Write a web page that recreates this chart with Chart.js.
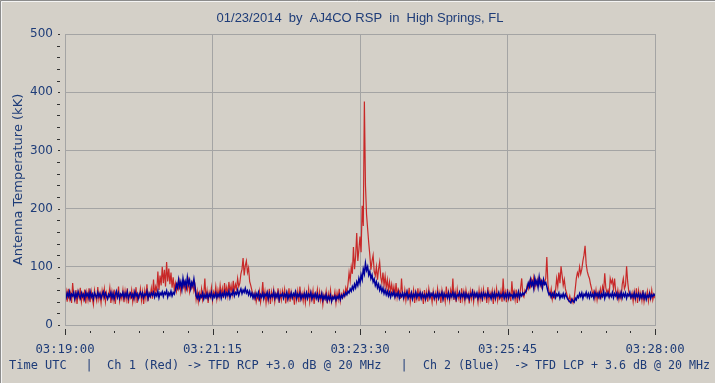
<!DOCTYPE html>
<html>
<head>
<meta charset="utf-8">
<script src="https://cdn.jsdelivr.net/npm/chart.js@4/dist/chart.umd.min.js"></script>
<style>
html,body{margin:0;padding:0;background:#d4d0c8;}
canvas{display:block;}
</style>
</head>
<body>
<canvas id="c" width="715" height="383"></canvas>
<script>
// ---- data ----
const chartTitle = "01/23/2014  by  AJ4CO RSP  in  High Springs, FL";
const yTitle = "Antenna Temperature (kK)";
const footerParts = ["Time UTC", "|", "Ch 1 (Red) -> TFD RCP +3.0 dB @ 20 MHz", "|", "Ch 2 (Blue)  -> TFD LCP + 3.6 dB @ 20 MHz"];
const startClock = [3, 19, 0];      // 03:19:00 UTC
const sampleStepSec = 1;            // seconds between samples
const spanSec = 540;                // 9 minutes
const majorTickSec = 135;           // 2:15 between labels
const minorTickSec = 22.5;
const yMin = 0, yMax = 500, yMajor = 100, yMinor = 20;

// Ch 2 (Blue) LCP, one value per second from 03:19:00
const blueValues = [
  52,47,55,49,57,46,53,50,56,45,54,48,57,51,46,55,49,53,45,56,
  50,54,46,57,48,53,45,55,51,47,56,49,54,46,52,57,48,55,50,45,
  53,49,56,47,54,45,52,58,48,55,46,53,50,56,47,54,49,57,46,52,
  55,48,53,46,57,50,54,45,52,56,49,55,47,53,51,58,46,54,49,55,
  51,56,48,54,50,58,47,55,52,57,49,56,53,59,48,55,51,58,50,56,
  53,60,70,64,78,66,74,62,80,68,75,65,82,70,77,63,73,67,79,66,
  50,46,53,44,51,48,55,45,52,47,54,46,53,49,56,45,52,48,55,47,
  53,49,56,46,54,50,57,48,55,51,58,47,54,52,59,50,56,53,60,51,
  57,62,54,60,56,63,55,59,52,58,50,55,47,53,46,54,49,56,45,52,
  48,55,46,53,50,56,45,54,47,52,49,57,46,53,48,55,44,52,50,54,
  46,53,49,56,45,52,48,55,47,54,50,57,46,53,49,55,45,52,48,54,
  47,55,46,53,49,56,45,52,48,54,46,53,44,51,47,54,43,50,45,52,
  42,49,44,51,41,48,45,50,43,49,46,52,44,51,47,53,50,56,52,58,
  55,62,58,66,61,70,64,74,68,80,72,86,78,96,88,106,94,100,86,92,
  80,86,74,79,68,74,64,70,60,66,57,63,54,60,52,58,50,56,48,55,
  51,57,48,54,50,56,46,53,49,55,47,54,50,57,46,52,48,55,45,53,
  49,56,47,53,50,55,46,54,48,52,45,53,49,56,47,54,50,55,46,52,
  48,55,46,53,50,56,45,54,49,52,47,55,46,53,49,56,48,54,45,52,
  50,56,47,53,49,55,46,54,48,52,45,53,50,57,47,54,49,55,46,53,
  48,54,46,55,50,53,47,56,49,52,45,54,48,55,46,53,50,56,47,52,
  49,55,46,53,48,56,47,54,50,52,46,55,48,53,49,57,47,54,50,55,
  52,56,58,64,72,66,78,68,74,63,80,70,76,65,82,69,75,64,78,70,
  73,66,58,52,55,48,54,49,56,47,53,50,55,46,52,48,54,47,53,49,
  45,42,40,38,44,41,39,46,43,50,47,54,49,55,46,53,50,56,48,54,
  47,55,49,53,46,56,50,54,48,55,47,53,49,57,46,54,50,55,48,53,
  49,56,47,54,50,55,46,53,48,56,47,54,49,55,46,53,50,56,47,52,
  48,55,46,53,49,54,45,52,47,55,46,53,44,51,48,54,46,52,49,53,
  50
];

// Ch 1 (Red) RCP, one value per second from 03:19:00
const redValues = [
  48,58,40,62,45,55,38,72,50,42,60,36,57,47,64,40,53,44,61,37,
  56,43,63,39,58,46,35,60,49,41,65,44,54,38,59,47,62,40,55,45,
  50,64,38,57,43,61,36,55,48,66,41,52,45,60,39,58,44,63,37,54,
  47,60,40,56,44,65,38,53,48,62,42,57,36,59,46,70,41,55,49,63,
  45,78,52,66,58,92,60,85,68,100,72,95,66,108,75,97,70,90,64,82,
  60,72,58,70,62,75,56,68,64,73,59,70,61,76,57,69,63,72,58,67,
  44,58,40,55,47,62,43,53,80,45,59,38,56,48,64,42,57,50,66,45,
  60,48,68,52,63,46,72,55,65,50,74,57,68,53,76,58,70,62,80,66,
  72,88,96,115,85,102,110,90,98,75,68,60,52,45,56,40,50,44,58,39,
  52,74,46,58,38,55,42,62,36,57,45,60,40,54,47,63,38,56,43,59,
  48,61,37,55,44,63,40,57,46,52,35,60,43,58,39,66,45,54,41,57,
  38,55,46,62,40,56,44,59,36,53,48,61,39,57,42,54,35,52,45,58,
  37,54,43,60,40,50,46,57,38,55,44,62,41,53,47,58,50,64,56,70,
  90,76,100,88,134,96,118,158,110,130,152,125,205,170,384,240,190,165,141,120,
  95,110,120,92,85,100,78,96,108,82,72,90,68,84,64,78,60,74,58,70,
  55,66,50,72,48,62,58,45,80,52,44,60,42,57,48,64,40,55,46,60,
  38,56,45,63,41,58,47,54,36,60,44,57,40,62,48,53,39,58,45,55,
  41,62,47,56,38,59,44,54,40,66,46,57,42,60,49,80,43,57,39,61,
  46,55,38,63,44,57,41,60,47,54,37,58,45,62,40,56,48,53,39,60,
  44,58,40,61,47,55,38,65,43,56,48,59,36,57,45,62,42,54,46,58,
  40,80,47,57,39,62,45,55,41,75,50,58,43,61,38,56,46,64,80,52,
  48,60,56,68,62,74,66,78,70,82,64,76,68,80,72,78,66,75,70,74,
  80,117,70,58,50,62,44,55,48,60,80,66,90,72,101,85,68,78,62,55,
  48,42,50,40,45,38,46,62,80,90,84,100,88,96,110,120,136,105,92,85,
  80,70,62,52,58,45,60,43,56,48,62,50,66,58,89,64,55,60,50,80,
  72,78,62,80,58,48,60,44,56,46,70,80,62,68,101,74,58,50,46,55,
  40,57,44,63,38,59,46,55,42,60,40,52,47,58,41,56,45,60,43,52,
  46
];

// ---- helpers ----
const TEXT = '#1e3c78';
const GRID = '#a4a4a4';
const toPoints = vals => vals.map((v, i) => ({x: i * sampleStepSec, y: v}));
function clockLabel(sec) {
  let s = startClock[0]*3600 + startClock[1]*60 + startClock[2] + sec;
  const h = Math.floor(s/3600), m = Math.floor((s%3600)/60), ss = Math.round(s%60);
  const p = n => String(n).padStart(2,'0');
  return p(h)+':'+p(m)+':'+p(ss);
}
const isMajorX = v => Math.abs(v/majorTickSec - Math.round(v/majorTickSec)) < 1e-6;
const isMajorY = v => v % yMajor === 0;

const decor = {
  id: 'decor',
  beforeDraw(chart) {
    const ctx = chart.ctx;
    ctx.save();
    ctx.fillStyle = '#d4d0c8';
    ctx.fillRect(0, 0, chart.width, chart.height);
    ctx.strokeStyle = '#8c8c8c';
    ctx.lineWidth = 1;
    ctx.beginPath();
    ctx.moveTo(0.5, chart.height); ctx.lineTo(0.5, 0.5); ctx.lineTo(chart.width, 0.5);
    ctx.stroke();
    ctx.strokeStyle = '#f4f4f4';
    ctx.beginPath();
    ctx.moveTo(1.5, chart.height); ctx.lineTo(1.5, 1.5); ctx.lineTo(chart.width, 1.5);
    ctx.stroke();
    ctx.restore();
  },
  afterDraw(chart) {
    const ctx = chart.ctx, a = chart.chartArea;
    const xs = chart.scales.x, ys = chart.scales.y;
    ctx.save();
    ctx.strokeStyle = GRID;
    ctx.lineWidth = 1;
    ctx.strokeRect(Math.round(a.left)+0.5, Math.round(a.top)+0.5, Math.round(a.right-a.left), Math.round(a.bottom-a.top));
    ctx.strokeStyle = '#303030';
    ys.ticks.forEach(t => {
      const y = Math.round(ys.getPixelForValue(t.value)) + 0.5;
      ctx.beginPath();
      if (isMajorY(t.value)) { ctx.moveTo(a.left-7, y); ctx.lineTo(a.left-5, y); }
      else { ctx.moveTo(a.left-8, y); ctx.lineTo(a.left-5, y); }
      ctx.stroke();
    });
    xs.ticks.forEach(t => {
      const x = Math.round(xs.getPixelForValue(t.value)) + 0.5;
      ctx.beginPath();
      if (isMajorX(t.value)) { ctx.moveTo(x, a.bottom+4); ctx.lineTo(x, a.bottom+10); }
      else { ctx.moveTo(x, a.bottom+6); ctx.lineTo(x, a.bottom+8); }
      ctx.stroke();
    });
    ctx.fillStyle = TEXT;
    ctx.textAlign = 'center';
    ctx.textBaseline = 'middle';
    ctx.font = '13px "Liberation Sans", Arial, sans-serif';
    ctx.fillText(chartTitle, (a.left + a.right)/2, 18);
    ctx.font = '12px "DejaVu Sans Mono", monospace';
    ctx.textAlign = 'left';
    ctx.fillText(footerParts[0], 9, 366, 62);
    ctx.textAlign = 'center';
    ctx.fillText(footerParts[1], 89, 366);
    ctx.textAlign = 'left';
    ctx.fillText(footerParts[2], 107, 366, 278);
    ctx.textAlign = 'center';
    ctx.fillText(footerParts[3], 404, 366);
    ctx.textAlign = 'left';
    ctx.fillText(footerParts[4], 423, 366, 287);
    ctx.restore();
  }
};

new Chart(document.getElementById('c'), {
  type: 'line',
  data: {
    datasets: [
      { label: 'Ch 2 (Blue)', data: toPoints(blueValues), borderColor: '#00009c', borderWidth: 1.5, pointRadius: 0, tension: 0, order: 1 },
      { label: 'Ch 1 (Red)', data: toPoints(redValues), borderColor: '#c82828', borderWidth: 1.2, pointRadius: 0, tension: 0, order: 2 }
    ]
  },
  options: {
    responsive: false,
    animation: false,
    devicePixelRatio: 1,
    layout: { padding: { top: 34, right: 60, left: 0, bottom: 0 } },
    plugins: { legend: { display: false }, tooltip: { enabled: false }, title: { display: false } },
    scales: {
      x: {
        type: 'linear',
        min: 0, max: spanSec,
        afterFit: s => { s.height = 58; },
        grid: { drawTicks: false, color: c => (c.tick && isMajorX(c.tick.value)) ? GRID : 'rgba(0,0,0,0)' },
        border: { display: false },
        ticks: {
          stepSize: minorTickSec, autoSkip: false, maxRotation: 0, padding: 17,
          color: TEXT, font: { family: '"DejaVu Sans Mono", monospace', size: 12.3 },
          callback: v => isMajorX(v) ? clockLabel(v) : ''
        }
      },
      y: {
        min: yMin, max: yMax,
        afterFit: s => { s.width = 65; },
        grid: { drawTicks: false, color: c => (c.tick && isMajorY(c.tick.value)) ? GRID : 'rgba(0,0,0,0)' },
        border: { display: false },
        ticks: {
          stepSize: yMinor, autoSkip: false, padding: 12,
          color: TEXT, font: { family: '"DejaVu Sans", sans-serif', size: 12 },
          callback: v => isMajorY(v) ? String(v) : ''
        },
        title: {
          display: true, text: yTitle, color: TEXT,
          font: { family: '"DejaVu Sans", sans-serif', size: 13 },
          padding: { top: 11, bottom: 0 }
        }
      }
    }
  },
  plugins: [decor]
});
</script>
</body>
</html>
